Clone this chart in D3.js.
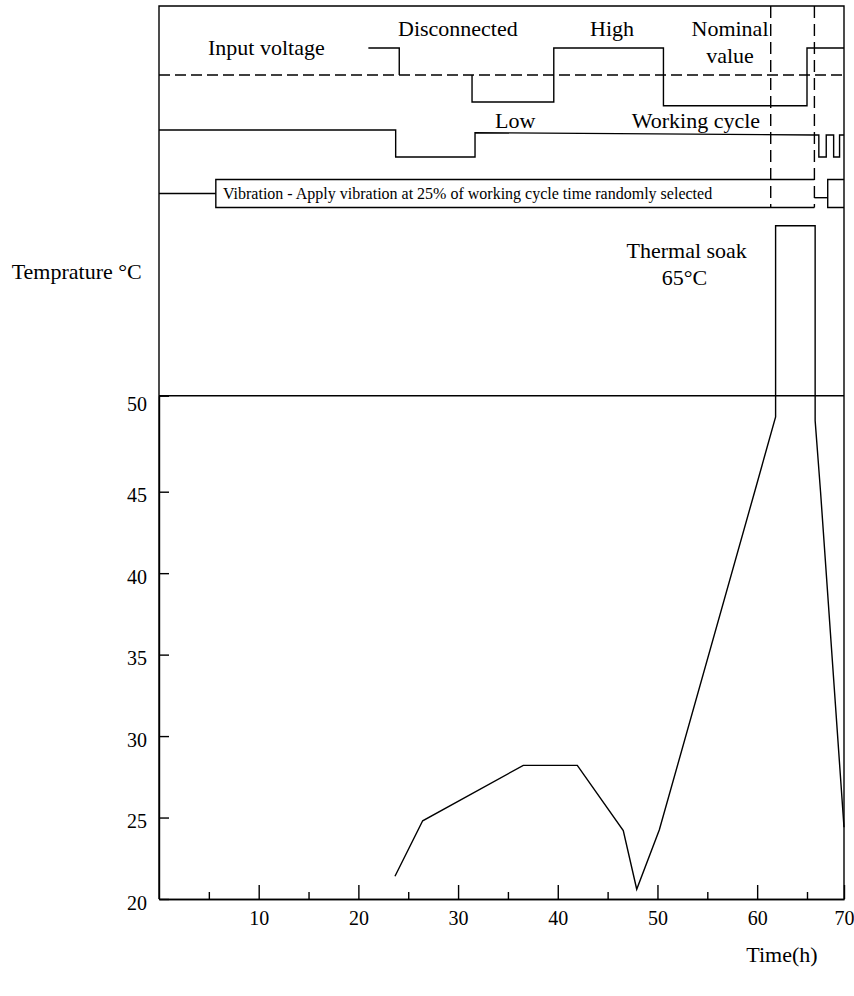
<!DOCTYPE html>
<html>
<head>
<meta charset="utf-8">
<script src="https://cdn.jsdelivr.net/npm/d3@7"></script>
<style>
  body { margin: 0; background: #fff; }
  text { font-family: 'Liberation Serif', 'Times New Roman', serif; fill: #000; }
</style>
</head>
<body>
<div id="chart"></div>
<script>
// data
const majorTicks = [10, 20, 30, 40, 50, 60, 70];
const minorTicks = [5, 15, 25, 35, 45, 55, 65];
const tempTicks = [20, 25, 30, 35, 40, 45, 50];

// temperature profile (hours, degC)
const tempHours = [23.67, 26.45, 36.54, 41.96, 46.57, 47.92, 50.19, 59.75, 61.85, 61.85, 66.1, 66.1, 66.83, 70];
const tempValues = [21.4, 24.8, 28.2, 28.2, 24.2, 20.6, 24.25, 45, 48.9, 58.85, 58.85, 48.7, 45, 24.4];

// input voltage trace (level: 1 high, 0 nominal, -1 low), null = disconnected
const voltageHours = [21.0, 24.1, 24.1, null, 31.4, 31.4, 39.6, 39.6, 50.6, 50.6, 65.0, 65.0, 70];
const voltageLevel = [1, 1, 0, null, 0, -1, -1, 1, 1, -1.14, -1.14, 1, 1];

// working cycle trace (1 on, 0 off)
const cycleHours = [0, 23.74, 23.74, 31.7, 31.7, 66.0, 66.6, 66.6, 67.6, 67.6, 68.6, 68.6, 69.4, 69.4, 70];
const cycleLevel = [1, 1, 0, 0, 0.9, 0.815, 0.815, 0, 0, 0.815, 0.815, 0, 0, 0.815, 0.815];

// vibration
const vibLeadHours = [0, 5.7];
const vibBoxHours = [5.7, 66.0];
const vibLinkHours = [66.0, 67.8];
const vibLinkLevel = -0.3;
const vibBlockHours = [67.8, 70];

// phase markers (dashed verticals)
const phaseHours = [61.36, 66.0];

const margin = ({ top: 6, right: 10, bottom: 97, left: 159 });
const width = 854 - margin.left - margin.right,
    height = 996 - margin.top - margin.bottom;

const svg = d3.select("#chart").append("svg")
    .attr("width", width + margin.left + margin.right)
    .attr("height", height + margin.top + margin.bottom)
    .append("g")
    .attr("transform", "translate(" + margin.left + "," + margin.top + ")");

// the drawing is not to scale, so the scales are piecewise
const xScale = d3.scaleLinear().domain([0, 65, 70]).range([0, 648, width]);
const yScale = d3.scaleLinear().domain([20, 45, 50]).range([height, 485.7, 389.7]);
const voltageY = d3.scaleLinear().domain([-1, 1]).range([96, 42]);
const cycleY = d3.scaleLinear().domain([0, 1]).range([151, 124]);
const vibY = d3.scaleLinear().domain([-1, 1]).range([201.5, 173.5]);

const stroke = "#000", sw = 1.4;

// frame
svg.append("path")
    .attr("d", `M0,${height}V0H${width}V${height}`)
    .attr("fill", "none").attr("stroke", stroke).attr("stroke-width", sw);

// axes
const xAxis = d3.axisBottom(xScale).tickValues(majorTicks)
    .tickSizeInner(-14).tickSizeOuter(0).tickPadding(11.5).tickFormat(d3.format("d"));
const xMinor = d3.axisBottom(xScale).tickValues(minorTicks)
    .tickSizeInner(-7).tickSizeOuter(0).tickFormat("");
const yAxis = d3.axisLeft(yScale).tickValues(tempTicks)
    .tickSizeInner(-10).tickSizeOuter(0).tickPadding(12).tickFormat(d3.format("d"));

function styleAxis(g) {
    g.attr("font-family", null).attr("font-size", null);
    g.selectAll("line, path").attr("stroke", stroke).attr("stroke-width", sw);
    g.selectAll("text").attr("font-size", 20).attr("fill", "#000");
}

svg.append("g").attr("class", "axis x-minor")
    .attr("transform", `translate(0, ${height})`)
    .call(xMinor).call(styleAxis);
svg.append("g").attr("class", "axis x-axis")
    .attr("transform", `translate(0, ${height})`)
    .call(xAxis).call(styleAxis);
svg.append("g").attr("class", "axis y-axis")
    .call(yAxis).call(styleAxis)
    .selectAll("text").attr("dy", d => d === 50 ? "0.75em" : "0.5em");

// 50 degC reference line
svg.append("line")
    .attr("x1", 0).attr("x2", width)
    .attr("y1", yScale(50)).attr("y2", yScale(50))
    .attr("stroke", stroke).attr("stroke-width", sw);

// temperature line
const tempLine = d3.line().x(d => xScale(d[0])).y(d => yScale(d[1]));
svg.append("path")
    .datum(d3.zip(tempHours, tempValues))
    .attr("d", tempLine)
    .attr("fill", "none").attr("stroke", stroke).attr("stroke-width", sw);

// input voltage
svg.append("line")
    .attr("x1", 0).attr("x2", width)
    .attr("y1", voltageY(0)).attr("y2", voltageY(0))
    .attr("stroke", stroke).attr("stroke-width", sw)
    .attr("stroke-dasharray", "11,5");

const voltLine = d3.line()
    .defined(d => d[0] !== null)
    .x(d => xScale(d[0])).y(d => voltageY(d[1]));
svg.append("path")
    .datum(d3.zip(voltageHours, voltageLevel))
    .attr("d", voltLine)
    .attr("fill", "none").attr("stroke", stroke).attr("stroke-width", sw);

// working cycle
const cycleLine = d3.line().x(d => xScale(d[0])).y(d => cycleY(d[1]));
svg.append("path")
    .datum(d3.zip(cycleHours, cycleLevel))
    .attr("d", cycleLine)
    .attr("fill", "none").attr("stroke", stroke).attr("stroke-width", sw);

// vibration
const vibLine = d3.line().x(d => xScale(d[0])).y(d => vibY(d[1]));
const vibPaths = [
    [[vibLeadHours[0], 0], [vibLeadHours[1], 0]],
    [[vibBoxHours[1], 1], [vibBoxHours[0], 1], [vibBoxHours[0], -1], [vibBoxHours[1], -1]],
    [[vibLinkHours[0], vibLinkLevel], [vibLinkHours[1], vibLinkLevel]],
    [[vibBlockHours[1], 1], [vibBlockHours[0], 1], [vibBlockHours[0], -1], [vibBlockHours[1], -1]]
];
svg.selectAll(".vib")
    .data(vibPaths)
    .enter().append("path")
    .attr("class", "vib")
    .attr("d", vibLine)
    .attr("fill", "none").attr("stroke", stroke).attr("stroke-width", sw);

// phase markers
svg.selectAll(".phase")
    .data(phaseHours)
    .enter().append("line")
    .attr("class", "phase")
    .attr("x1", d => xScale(d)).attr("x2", d => xScale(d))
    .attr("y1", 0).attr("y2", vibY(-1))
    .attr("stroke", stroke).attr("stroke-width", sw)
    .attr("stroke-dasharray", "12,6");

// labels
const labels = [
    { t: "Input voltage", x: 49, y: 49, a: "start", s: 22 },
    { t: "Disconnected", x: 239, y: 30, a: "start", s: 22 },
    { t: "High", x: 431, y: 30, a: "start", s: 22 },
    { t: "Nominal", x: 571, y: 30, a: "middle", s: 22 },
    { t: "value", x: 571, y: 57.3, a: "middle", s: 22 },
    { t: "Low", x: 336, y: 122.3, a: "start", s: 22 },
    { t: "Working cycle", x: 472.7, y: 122.3, a: "start", s: 22 },
    { t: "Vibration - Apply vibration at 25% of working cycle time randomly selected", x: 64, y: 193, a: "start", s: 16 },
    { t: "Thermal soak", x: 527.7, y: 252.3, a: "middle", s: 22 },
    { t: "65°C", x: 525.5, y: 279, a: "middle", s: 22 },
    { t: "Temprature °C", x: -147.3, y: 273.3, a: "start", s: 22 },
    { t: "Time(h)", x: 623, y: 956, a: "middle", s: 22 }
];
svg.selectAll(".label")
    .data(labels)
    .enter().append("text")
    .attr("class", "label")
    .attr("x", d => d.x).attr("y", d => d.y)
    .attr("text-anchor", d => d.a)
    .attr("font-size", d => d.s)
    .text(d => d.t);
</script>
</body>
</html>
